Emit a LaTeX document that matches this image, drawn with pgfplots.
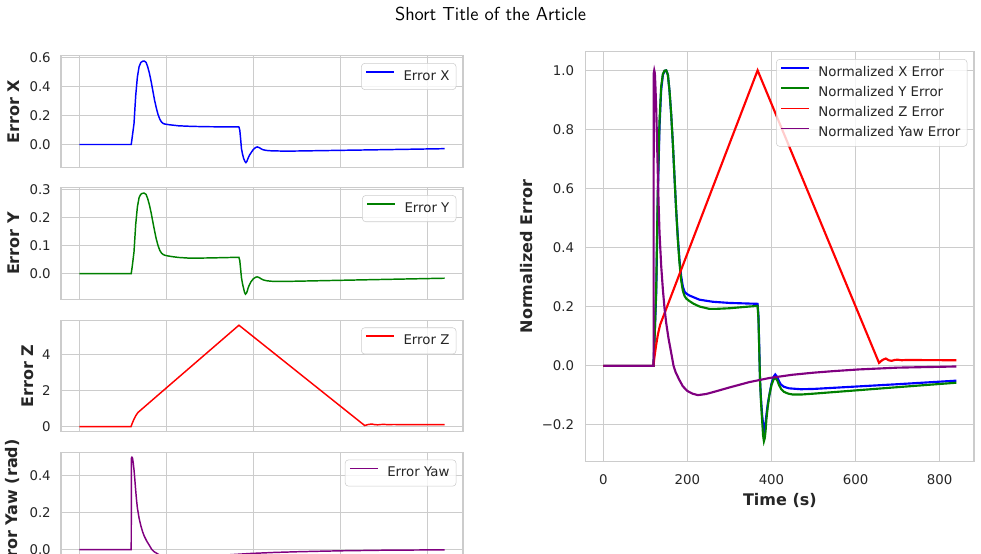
\documentclass[border=0pt]{standalone}
\usepackage{fontspec}
\setmainfont{DejaVu Sans}
\usepackage{pgfplots}
\usepackage{pgfplotstable}
\pgfplotsset{compat=1.18}

\definecolor{gridgray}{RGB}{204,204,204}
\definecolor{txt}{RGB}{38,38,38}
\definecolor{mplgreen}{RGB}{0,128,0}
\definecolor{mplpurple}{RGB}{128,0,128}

% normalized errors (error / max |error|); max X 0.577, Y 0.288, Z 5.6, Yaw 0.498
\pgfplotstableread{
t n
0 0
119.4 0
122 0.1
125.8 0.25
129.7 0.585
133.6 0.81
137.5 0.933
141.6 0.984
145.5 0.998
149.5 1.0
153.5 0.985
157.4 0.93
161.4 0.85
165.3 0.753
169.2 0.64
173.2 0.528
177 0.44
181 0.36
185 0.305
189 0.269
193 0.252
197 0.245
205 0.238
228.6 0.224
260 0.217
300 0.213
367 0.21
369 0.17
371 0.06
372.7 -0.046
375 -0.11
378 -0.17
381 -0.205
383 -0.217
385 -0.205
388 -0.165
391 -0.13
394.8 -0.1
400 -0.06
405 -0.037
409 -0.029
414 -0.038
418 -0.052
422.5 -0.063
430 -0.071
442 -0.076
470 -0.079
500 -0.078
600 -0.07
700 -0.062
840 -0.05
}\tabX

\pgfplotstableread{
t n
0 0
119.4 0
122 0.1
125.8 0.27
129.7 0.61
133.6 0.83
137.5 0.945
141.6 0.988
145.5 0.999
149.5 1.0
153.5 0.985
157.4 0.93
161.4 0.85
165.3 0.753
169.2 0.64
173.2 0.528
177 0.43
181 0.35
185 0.29
189 0.255
193 0.237
197 0.228
205 0.219
215 0.21
228.6 0.201
252 0.193
270 0.193
300 0.195
340 0.2
367 0.203
369 0.16
371 0.05
372.7 -0.046
375 -0.12
378 -0.19
380 -0.235
382 -0.255
384 -0.245
386 -0.22
388 -0.18
391 -0.14
394.8 -0.1
400 -0.065
405 -0.046
409 -0.04
414 -0.05
418 -0.065
423 -0.078
430 -0.088
440 -0.094
451 -0.097
470 -0.097
500 -0.094
600 -0.083
700 -0.072
840 -0.057
}\tabY

\pgfplotstableread{
t n
0 0
119 0
122 0.035
126 0.075
130 0.108
135 0.139
185 0.325
367 1.0
656 0.01
664 0.02
672 0.025
679 0.019
686 0.017
693 0.02
700 0.021
710 0.019
720 0.02
840 0.019
}\tabZ

\pgfplotstableread{
t n
0 0
119.4 0
119.8 0.99
121 1.0
122.5 0.99
124 0.94
125.8 0.866
127.7 0.76
129.7 0.64
131.6 0.54
133.6 0.45
137.5 0.34
141.6 0.258
145.5 0.195
149.5 0.145
155 0.093
161.4 0.044
167 0
172 -0.022
181 -0.048
189 -0.069
200 -0.085
212 -0.094
225 -0.099
245 -0.095
268 -0.086
300 -0.073
347 -0.055
395 -0.041
450 -0.03
500 -0.023
545 -0.018
608 -0.012
700 -0.006
840 -0.002
}\tabYaw

\pgfplotsset{
  errbase/.style={
    scale only axis,
    xmin=-42, xmax=882,
    xtick={0,200,400,600,800},
    grid=major,
    major grid style={draw=gridgray, line width=0.75pt},
    axis line style={draw=gridgray, line width=0.9pt},
    major tick length=0pt,
    tick label style={font=\fontsize{10}{12}\selectfont, text=txt},
    yticklabel style={inner sep=0pt, xshift=-7.5pt},
    xticklabel style={inner sep=0pt, yshift=-9.5pt},
    label style={font=\bfseries\fontsize{12}{14}\selectfont, text=txt},
    legend cell align=left,
    legend image code/.code={\draw[##1, line width=1.1pt] (0pt,3.5pt) -- (21pt,3.5pt);},
    legend style={
      at={(1,1)}, anchor=north east, xshift=-5pt, yshift=-5.5pt,
      draw=gridgray, rounded corners=2.5pt, fill=white,
      fill opacity=0.8, text opacity=1,
      inner xsep=3pt, inner ysep=3pt,
      font=\fontsize{10}{12}\selectfont, text=txt,
      nodes={inner xsep=2pt, inner ysep=2pt, text height=7.5pt, text depth=2.2pt},
      column sep=4.5pt, row sep=1.5pt,
    },
  },
  leftplot/.style={
    errbase,
    width=301.5pt, height=83.6pt,
    xticklabels={},
  },
}

\begin{document}
\begin{tikzpicture}
\useasboundingbox (0,0) rectangle (735.75pt,-414.75pt);
\clip (0,0) rectangle (735.75pt,-414.75pt);

\node[anchor=base, inner sep=0pt, font=\sffamily\fontsize{14.1}{16}\selectfont] at (367.9pt,-15pt) {Short Title of the Article};

% Error X
\begin{axis}[leftplot, at={(45.75pt,-41.8pt)}, anchor=north west,
  ymin=-0.157, ymax=0.614,
  ytick={0,0.2,0.4,0.6}, yticklabels={0.0,0.2,0.4,0.6},
  ylabel={Error X},
  ylabel style={at={(axis description cs:-0.102,0.5)}, anchor=base}]
\addplot[blue, line width=1.1pt] table[x=t, y expr=\thisrow{n}*0.577] {\tabX};
\addlegendentry{Error X}
\end{axis}

% Error Y
\begin{axis}[leftplot, at={(45.75pt,-140.9pt)}, anchor=north west,
  ymin=-0.092, ymax=0.307,
  ytick={0,0.1,0.2,0.3}, yticklabels={0.0,0.1,0.2,0.3},
  ylabel={Error Y},
  ylabel style={at={(axis description cs:-0.102,0.5)}, anchor=base}]
\addplot[mplgreen, line width=1.1pt] table[x=t, y expr=\thisrow{n}*0.288] {\tabY};
\addlegendentry{Error Y}
\end{axis}

% Error Z
\begin{axis}[leftplot, at={(45.75pt,-240.1pt)}, anchor=north west,
  ymin=-0.28, ymax=5.88,
  ytick={0,2,4}, yticklabels={0,2,4},
  ylabel={Error Z},
  ylabel style={at={(axis description cs:-0.069,0.5)}, anchor=base}]
\addplot[red, line width=1.1pt] table[x=t, y expr=\thisrow{n}*5.6] {\tabZ};
\addlegendentry{Error Z}
\end{axis}

% Error Yaw
\begin{axis}[leftplot, at={(45.75pt,-339.2pt)}, anchor=north west,
  ymin=-0.076, ymax=0.525,
  ytick={0,0.2,0.4}, yticklabels={0.0,0.2,0.4},
  ylabel={Error Yaw (rad)},
  ylabel style={at={(axis description cs:-0.109,0.5)}, anchor=base}]
\addplot[mplpurple, line width=1.1pt] table[x=t, y expr=\thisrow{n}*0.498] {\tabYaw};
\addlegendentry{Error Yaw}
\end{axis}

% Normalized errors
\begin{axis}[errbase, at={(439.3pt,-38.8pt)}, anchor=north west,
  width=291.2pt, height=307.2pt,
  ymin=-0.323, ymax=1.063,
  xticklabels={0,200,400,600,800},
  ytick={-0.2,0,0.2,0.4,0.6,0.8,1.0},
  yticklabels={−0.2,0.0,0.2,0.4,0.6,0.8,1.0},
  yticklabel style={xshift=-1pt},
  xlabel={Time (s)},
  xlabel style={at={(axis description cs:0.5,-0.077)}, anchor=north, inner sep=0pt},
  ylabel={Normalized Error},
  ylabel style={at={(axis description cs:-0.138,0.5)}, anchor=base}]
\addplot[blue, line width=1.6pt] table[x=t, y=n] {\tabX};
\addlegendentry{Normalized X Error}
\addplot[mplgreen, line width=1.6pt] table[x=t, y=n] {\tabY};
\addlegendentry{Normalized Y Error}
\addplot[red, line width=1.6pt] table[x=t, y=n] {\tabZ};
\addlegendentry{Normalized Z Error}
\addplot[mplpurple, line width=1.6pt] table[x=t, y=n] {\tabYaw};
\addlegendentry{Normalized Yaw Error}
\end{axis}
\end{tikzpicture}
\end{document}
